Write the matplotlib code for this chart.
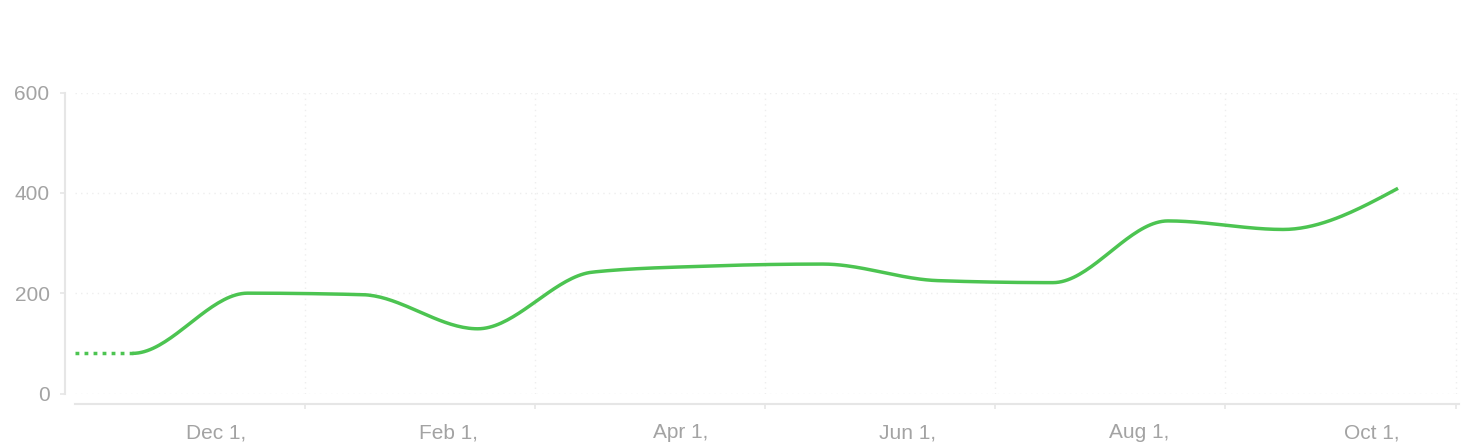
import numpy as np
import matplotlib
matplotlib.use('Agg')
import matplotlib.pyplot as plt

# monthly values (index 0 = first month shown), plus the value before it (dotted part)
months = np.arange(12)
values = [80, 200, 197, 129, 242, 254, 258, 225, 221, 344, 327, 409]
prev_value = 80
tick_labels = ['Dec 1,', 'Feb 1,', 'Apr 1,', 'Jun 1,', 'Aug 1,', 'Oct 1,']

green = '#4cc451'
grey_text = '#a3a3a3'
axis_grey = '#e6e6e6'


def monotone_curve(x, y, n=40):
    # monotone cubic (like d3 curveMonotoneX)
    x = np.asarray(x, float)
    y = np.asarray(y, float)
    h = np.diff(x)
    s = np.diff(y) / h
    t = np.zeros(len(x))
    for i in range(1, len(x) - 1):
        p = (s[i - 1] * h[i] + s[i] * h[i - 1]) / (h[i - 1] + h[i])
        t[i] = (np.sign(s[i - 1]) + np.sign(s[i])) * min(abs(s[i - 1]), abs(s[i]), 0.5 * abs(p))
    t[0] = (3 * s[0] - t[1]) / 2
    t[-1] = (3 * s[-1] - t[-2]) / 2
    xs, ys = [], []
    for i in range(len(x) - 1):
        u = np.linspace(0, 1, n)
        h00 = 2 * u**3 - 3 * u**2 + 1
        h10 = u**3 - 2 * u**2 + u
        h01 = -2 * u**3 + 3 * u**2
        h11 = u**3 - u**2
        xs.append(x[i] + u * h[i])
        ys.append(h00 * y[i] + h10 * h[i] * t[i] + h01 * y[i + 1] + h11 * h[i] * t[i + 1])
    return np.concatenate(xs), np.concatenate(ys)


fig = plt.figure(figsize=(14.72, 4.46), dpi=100)
ax = fig.add_axes([75 / 1472, 52.5 / 446, 1384 / 1472, 301 / 446])

all_x = np.concatenate([[months[0] - 1], months])
all_y = [prev_value] + values
cx, cy = monotone_curve(all_x, all_y)
keep = cx >= months[0]
ax.plot(cx[keep], cy[keep], color=green, lw=2.5, solid_capstyle='butt', zorder=3)
ax.plot([months[0] - 0.5, months[0]], [prev_value, values[0]], color=green, lw=2.5,
        linestyle=(0, (1.1, 1.5)), zorder=3)

ax.set_xlim(-0.5, 11.53)
ax.set_ylim(0, 600)

ax.set_yticks([0, 200, 400, 600])
ax.set_xticks(np.arange(1.5, 12, 2))
ax.set_xticklabels([])
ax.set_xticks([0.73, 2.75, 4.76, 6.74, 8.75, 10.77], minor=True)
ax.set_xticklabels(tick_labels, minor=True)

for sp in ['top', 'right']:
    ax.spines[sp].set_visible(False)
ax.spines['left'].set_position(('outward', 7.2))
ax.spines['bottom'].set_position(('outward', 7.5))
for sp in ['left', 'bottom']:
    ax.spines[sp].set_color(axis_grey)
    ax.spines[sp].set_linewidth(1.5)

ax.tick_params(axis='both', which='major', color=axis_grey, length=3.6, width=1.2,
               labelcolor=grey_text, labelsize=15, labelfontfamily='Liberation Sans')
ax.tick_params(axis='y', pad=7.5)
ax.tick_params(axis='x', which='minor', length=0, pad=14, labelcolor=grey_text,
               labelsize=15, labelfontfamily='Liberation Sans')

ax.grid(True, which='major', color='#eeeeee', linestyle=(0, (1, 3)), lw=1)

fig.savefig('out.png', dpi=100)
